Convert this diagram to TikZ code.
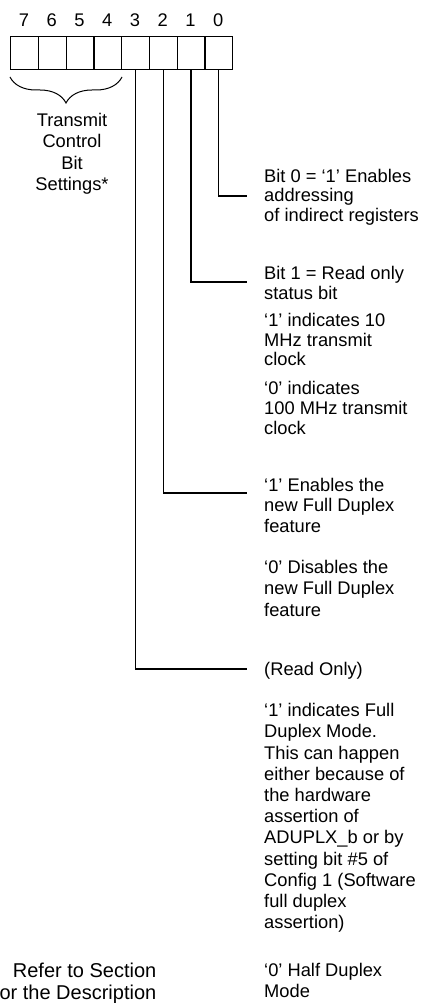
\documentclass[tikz,border=0pt]{standalone}
\usepackage{fontspec}
\setmainfont{Liberation Sans}
\usetikzlibrary{positioning}
\usetikzlibrary{decorations.pathreplacing}

\begin{document}
\begin{tikzpicture}[
    x=1pt, y=-1pt,
    every node/.style={font=\fontsize{18.3}{20.5}\selectfont},
    bitcell/.style={rectangle, draw, line width=1.3pt, minimum width=27.75pt, minimum height=33pt, inner sep=0pt},
    bitnum/.style={anchor=base, inner sep=0pt},
    note/.style={anchor=north west, inner sep=0pt, align=left, font=\fontsize{18.3}{#1}\selectfont, execute at begin node={\strut}},
    note/.default=20.5,
    line/.style={line width=1.3pt}
]
\useasboundingbox (0,0) rectangle (422,1003);
\clip (0,0) rectangle (422,1003);

% Register cells, bit 7 on the left
\foreach \i in {0,...,7} {
    \node[bitcell, anchor=north west] (cell\i) at ({10+(7-\i)*27.75}, 36) {};
    \node[bitnum] (num\i) at ({10+(7.5-\i)*27.75}, 27) {\i};
}

% Brace over bits 7..4
\coordinate (braceL) at (10,77);
\coordinate (braceR) at (122,77);
\draw[line width=1pt, decorate, decoration={brace, amplitude=26pt}] (braceR) -- (braceL);
\node[note=21.2, anchor=north, align=center] (txctl) at (72,113.2) {Transmit\\Control\\Bit\\Settings*};

% Elbow ends of the bit lines
\coordinate (end0) at (247,196);
\coordinate (end1) at (247,282);
\coordinate (end2) at (247,493);
\coordinate (end3) at (247,669);
\draw[line] (cell0.south) |- (end0);
\draw[line] (cell1.south) |- (end1);
\draw[line] (cell2.south) |- (end2);
\draw[line] (cell3.south) |- (end3);

% Bit descriptions
\node[note=19.5] (bitzero) at (264,168.9) {Bit 0 = ‘1’ Enables\\addressing\\of indirect registers};
\node[note=19.5] (bitone) at (264,266.4) {Bit 1 = Read only\\status bit};
\node[note=19.5] (tenmhz) at (264,313.4) {‘1’ indicates 10\\MHz transmit\\clock};
\node[note=20] (hundredmhz) at (264,381) {‘0’ indicates\\100 MHz transmit\\clock};
\node[note] (fdxon) at (264,477.6) {‘1’ Enables the\\new Full Duplex\\feature};
\node[note=21.2] (fdxoff) at (264,560.2) {‘0’ Disables the\\new Full Duplex\\feature};
\node[note] (readonly) at (264,660.6) {(Read Only)};
\node[note=21.2] (fullmode) at (264,703.2) {‘1’ indicates Full\\Duplex Mode.\\This can happen\\either because of\\the hardware\\assertion of\\ADUPLX\_b or by\\setting bit \#5 of\\Config 1 (Software\\full duplex\\assertion)};
\node[note=21.2] (halfmode) at (264,963.2) {‘0’ Half Duplex\\Mode};

% Footnote
\node[note, anchor=north east, align=right, font=\fontsize{20}{21.5}\selectfont] (footnote) at (156.5,963) {Refer to Section\\or the Description};

\end{tikzpicture}
\end{document}
